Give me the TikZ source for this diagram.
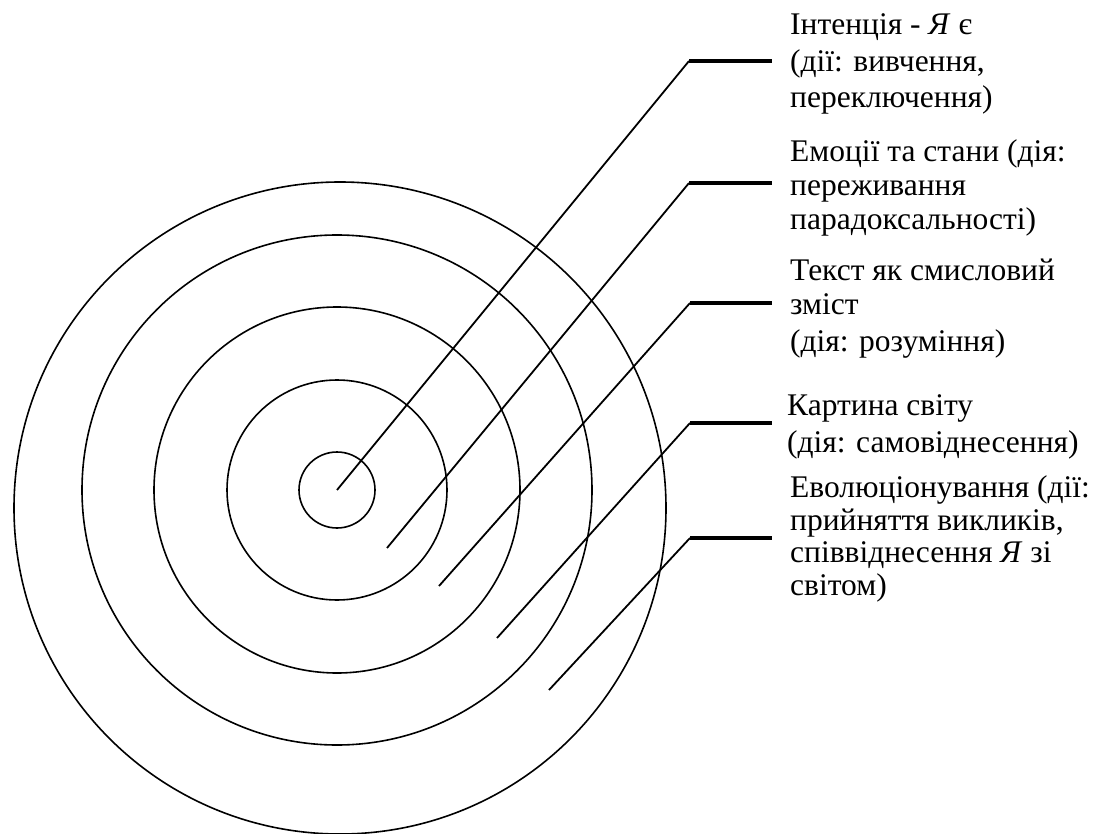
\documentclass[tikz,border=0pt]{standalone}
\usepackage{fontspec}
\setmainfont{Liberation Serif}
\usetikzlibrary{positioning}

\begin{document}
\begin{tikzpicture}[x=1pt, y=-1pt,
    ring/.style={draw, circle, line width=1.6pt, inner sep=0pt},
    lead/.style={line width=1.8pt},
    bar/.style={line width=3.4pt, shorten >=18pt},
    lab/.style={anchor=base west, align=left, inner sep=0pt, font=\fontsize{31.5}{34}\selectfont}]

    \useasboundingbox (0,0) rectangle (1103,834);

    % кола
    \node[ring, minimum size=76pt] (c1) at (337,490) {};
    \node[ring, minimum size=220pt] (c2) at (337,490) {};
    \node[ring, minimum size=366pt] (c3) at (337,490) {};
    \node[ring, minimum size=510pt] (c4) at (337,490) {};
    \node[ring, minimum size=652pt] (c5) at (340,508) {};

    % підписи (base = остання лінія)
    \node[lab] (l1) at (790,108) {Інтенція - \textit{Я} є\\[2.5pt](дії: вивчення,\\[2.5pt]переключення)};
    \node[lab] (l2) at (790,230) {Емоції та стани (дія:\\переживання\\парадоксальності)};
    \node[lab] (l3) at (790,352) {Текст як смисловий\\зміст\\[3pt](дія: розуміння)};
    \node[lab] (l4) at (787,452) {Картина світу\\[3pt](дія: самовіднесення)};
    \node[lab] (l5) at (790,595) {Еволюціонування (дії:\\[-1.5pt]прийняття викликів,\\[-1.5pt]співвіднесення \textit{Я} зі\\[-1.5pt]світом)};

    \coordinate (p1) at (337,490);
    \coordinate (p2) at (387,548);
    \coordinate (p3) at (439,586);
    \coordinate (p4) at (497,638);
    \coordinate (p5) at (549,690);

    \coordinate (k1) at (689,61);
    \coordinate (k2) at (689,183);
    \coordinate (k3) at (690,303);
    \coordinate (k4) at (690,423);
    \coordinate (k5) at (690,538);

    \draw[lead] (p1) -- (k1);
    \draw[lead] (p2) -- (k2);
    \draw[lead] (p3) -- (k3);
    \draw[lead] (p4) -- (k4);
    \draw[lead] (p5) -- (k5);

    \draw[bar] (k1) -- (k1 -| l1.west);
    \draw[bar] (k2) -- (k2 -| l2.west);
    \draw[bar] (k3) -- (k3 -| l3.west);
    \draw[bar] (k4) -- (k4 -| l3.west);
    \draw[bar] (k5) -- (k5 -| l5.west);

\end{tikzpicture}
\end{document}
